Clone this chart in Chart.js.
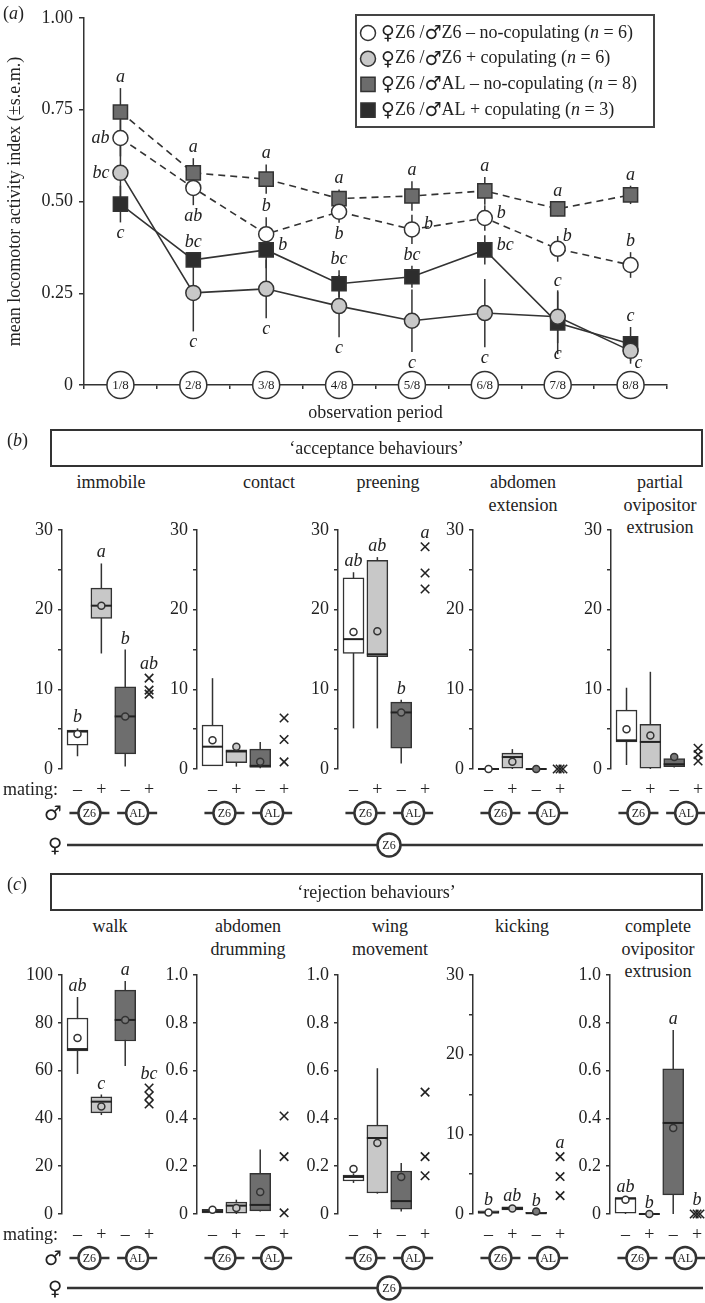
<!DOCTYPE html>
<html>
<head>
<meta charset="utf-8">
<title>Locomotor activity and courtship behaviours</title>
<script src="https://cdn.jsdelivr.net/npm/chart.js@4.4.1/dist/chart.umd.min.js"></script>
<style>
  html, body { margin: 0; padding: 0; background: #fff; }
  #figure { position: relative; width: 705px; height: 1303px; overflow: hidden;
    font-family: "Liberation Serif", "DejaVu Serif", serif; color: #222; }
  #figure canvas, #figure svg { position: absolute; }
  .txt { position: absolute; font-size: 18px; line-height: 22px; white-space: nowrap; }
  .mid { transform: translateX(-50%); text-align: center; }
  .frame { position: absolute; border: 2px solid #333; box-sizing: border-box;
    text-align: center; font-size: 18px; line-height: 34px; }
  .sex { position: absolute; font-family: "DejaVu Sans", sans-serif; font-size: 20px;
    line-height: 22px; transform: translateX(-50%); }
</style>
</head>
<body>
<div id="figure"></div>
<script>
// ---------- (a) mean locomotor activity index (±s.e.m.) ----------
const periods = ["1/8", "2/8", "3/8", "4/8", "5/8", "6/8", "7/8", "8/8"];

const z6NoCop = [0.673, 0.537, 0.411, 0.472, 0.424, 0.455, 0.371, 0.327];
const z6NoCopSem = [0.05, 0.047, 0.046, 0.03, 0.04, 0.035, 0.035, 0.035];
const z6NoCopLetters = ["ab", "ab", "b", "b", "b", "b", "b", "b"];

const z6Cop = [0.578, 0.251, 0.262, 0.215, 0.175, 0.196, 0.186, 0.093];
const z6CopSem = [0.1, 0.105, 0.08, 0.085, 0.085, 0.093, 0.072, 0.035];
const z6CopLetters = ["bc", "c", "c", "c", "c", "c", "c", "c"];

const alNoCop = [0.744, 0.578, 0.561, 0.508, 0.515, 0.529, 0.48, 0.518];
const alNoCopSem = [0.065, 0.04, 0.04, 0.025, 0.04, 0.038, 0.02, 0.025];
const alNoCopLetters = ["a", "a", "a", "a", "a", "a", "a", "a"];

const alCop = [0.493, 0.341, 0.368, 0.276, 0.295, 0.368, 0.169, 0.112];
const alCopSem = [0.05, 0.02, 0.05, 0.037, 0.03, 0.04, 0.085, 0.046];
const alCopLetters = ["c", "bc", "b", "bc", "bc", "bc", "c", "c"];

// ---------- (b) and (c): % observation time ----------
// groups: ♂Z6 no mating, ♂Z6 mating, ♂AL no mating, ♂AL mating (n = 3, single values)
const matingSigns = ["–", "+", "–", "+"];
const maleStrains = ["Z6", "AL"];
// box rows: [lower whisker, Q1, median, Q3, upper whisker]

const immobileBox = [[1.6, 3.0, 4.7, 4.9, 5.1], [14.5, 18.9, 20.5, 22.7, 25.8], [0.3, 1.9, 6.6, 10.3, 15.0]];
const immobileMean = [4.4, 20.5, 6.6];
const immobilePts = [11.4, 9.9, 9.4];
const immobileLetters = ["b", "a", "b", "ab"];

const contactBox = [[0.4, 0.4, 2.8, 5.5, 11.4], [0.3, 0.8, 2.2, 2.4, 2.9], [0.1, 0.2, 0.4, 2.5, 3.4]];
const contactMean = [3.6, 2.8, 0.9];
const contactPts = [6.4, 3.7, 0.9];
const contactLetters = ["", "", "", ""];

const preeningBox = [[5.1, 14.5, 16.3, 24.0, 24.7], [5.1, 14.1, 14.4, 26.2, 26.6], [0.7, 2.6, 7.1, 8.4, 8.7]];
const preeningMean = [17.2, 17.3, 7.1];
const preeningPts = [27.9, 24.6, 22.6];
const preeningLetters = ["ab", "ab", "b", "a"];

const abdExtBox = [[0, 0, 0, 0, 0], [0, 0, 1.5, 2.0, 2.5], [0, 0, 0, 0, 0]];
const abdExtMean = [0, 0.9, 0];
const abdExtPts = [0, 0, 0];
const abdExtLetters = ["", "", "", ""];

const partialOviBox = [[0.5, 3.4, 3.6, 7.4, 10.2], [0, 0, 3.4, 5.6, 12.2], [0.2, 0.3, 0.6, 1.3, 1.7]];
const partialOviMean = [5.0, 4.2, 1.5];
const partialOviPts = [2.6, 1.8, 1.0];
const partialOviLetters = ["", "", "", ""];

const walkBox = [[58.6, 68.2, 69.0, 82.0, 90.8], [41.4, 42.3, 47.0, 49.0, 50.0], [61.9, 72.4, 81.2, 93.7, 97.5]];
const walkMean = [73.6, 45.0, 81.2];
const walkPts = [52.7, 49.4, 46.0];
const walkLetters = ["ab", "c", "a", "bc"];

const drumBox = [[0.005, 0.005, 0.012, 0.02, 0.025], [0, 0, 0.035, 0.05, 0.06], [0.01, 0.013, 0.038, 0.17, 0.27]];
const drumMean = [0.018, 0.025, 0.092];
const drumPts = [0.41, 0.24, 0.005];
const drumLetters = ["", "", "", ""];

const wingBox = [[0.13, 0.138, 0.155, 0.163, 0.17], [0.085, 0.088, 0.318, 0.372, 0.61], [0.01, 0.02, 0.054, 0.18, 0.213]];
const wingMean = [0.188, 0.297, 0.155];
const wingPts = [0.51, 0.24, 0.16];
const wingLetters = ["", "", "", ""];

const kickBox = [[0, 0, 0.2, 0.4, 0.4], [0.5, 0.5, 0.7, 0.9, 0.9], [0, 0, 0.1, 0.2, 0.2]];
const kickMean = [0.2, 0.7, 0.3];
const kickPts = [7.2, 4.7, 2.3];
const kickLetters = ["b", "ab", "b", "a"];

const completeOviBox = [[0, 0, 0.066, 0.066, 0.066], [0, 0, 0, 0, 0], [0, 0.08, 0.381, 0.607, 0.77]];
const completeOviMean = [0.06, 0, 0.36];
const completeOviPts = [0, 0, 0];
const completeOviLetters = ["ab", "b", "a", "b"];

// ---------- styling / layout ----------
const FONT = '"Liberation Serif", "DejaVu Serif", serif';
const SYMBOL_FONT = '"DejaVu Sans", sans-serif';
const INK = "#333";
const boxFills = ["#ffffff", "#c8c8c8", "#6e6e6e"];
const meanFills = ["#ffffff", "#c8c8c8", "#7a7a7a"];

// where each significance letter of (a) sits relative to its point
const z6NoCopLetterPos = ["left", "below", "above", "below", "right", "right", "aboveRight", "above"];
const z6CopLetterPos = ["left", "below", "below", "below", "below", "below", "below", "belowRight"];
const alNoCopLetterPos = ["above", "above", "above", "above", "above", "above", "above", "above"];
const alCopLetterPos = ["below", "above", "right", "above", "above", "right", "above", "above"];

Chart.defaults.font.family = FONT;
Chart.defaults.font.size = 18;
Chart.defaults.color = "#222";
Chart.defaults.animation = false;

const fig = document.getElementById("figure");

function addText(html, x, cy, cls) {
  const d = document.createElement("div");
  d.className = cls;
  d.style.left = x + "px";
  d.style.top = (cy - 11) + "px";
  d.innerHTML = html;
  fig.appendChild(d);
  return d;
}

function makeCanvas(left, top, w, h) {
  const c = document.createElement("canvas");
  c.width = w;
  c.height = h;
  c.style.left = left + "px";
  c.style.top = top + "px";
  c.style.width = w + "px";
  c.style.height = h + "px";
  fig.appendChild(c);
  return c;
}

// ================= panel (a) =================
const errorBars = {
  id: "errorBars",
  beforeDatasetsDraw(chart) {
    const { ctx, scales: { x, y } } = chart;
    ctx.save();
    ctx.strokeStyle = INK;
    ctx.lineWidth = 1.5;
    chart.data.datasets.forEach((ds) => {
      ds.data.forEach((v, i) => {
        const px = x.getPixelForValue(i);
        ctx.beginPath();
        ctx.moveTo(px, y.getPixelForValue(v + ds.sem[i]));
        ctx.lineTo(px, y.getPixelForValue(v - ds.sem[i]));
        ctx.stroke();
      });
    });
    ctx.restore();
  },
};

const sigLetters = {
  id: "sigLetters",
  afterDatasetsDraw(chart) {
    const { ctx, scales: { x, y } } = chart;
    ctx.save();
    ctx.font = "italic 18px " + FONT;
    ctx.fillStyle = "#222";
    chart.data.datasets.forEach((ds) => {
      ds.data.forEach((v, i) => {
        const px = x.getPixelForValue(i);
        const py = y.getPixelForValue(v);
        const top = y.getPixelForValue(v + ds.sem[i]);
        const bot = y.getPixelForValue(v - ds.sem[i]);
        let tx = px, ty = py, align = "center", base = "alphabetic";
        switch (ds.letterPos[i]) {
          case "above": ty = top - 6; break;
          case "below": ty = bot + 2; base = "top"; break;
          case "left": tx = px - 11; ty = py; align = "right"; base = "middle"; break;
          case "right": tx = px + 12; ty = py - 5; align = "left"; base = "middle"; break;
          case "aboveRight": tx = px + 5; ty = py - 8; align = "left"; break;
          case "belowRight": tx = px + 4; ty = py + 3; align = "left"; base = "top"; break;
        }
        ctx.textAlign = align;
        ctx.textBaseline = base;
        ctx.fillText(ds.letters[i], tx, ty);
      });
    });
    ctx.restore();
  },
};

const periodMarks = {
  id: "periodMarks",
  afterDraw(chart) {
    const { ctx, scales: { x }, chartArea } = chart;
    ctx.save();
    chart.data.labels.forEach((p, i) => {
      const px = x.getPixelForValue(i);
      ctx.beginPath();
      ctx.arc(px, chartArea.bottom, 13.5, 0, Math.PI * 2);
      ctx.fillStyle = "#fff";
      ctx.fill();
      ctx.lineWidth = 1.5;
      ctx.strokeStyle = INK;
      ctx.stroke();
      ctx.fillStyle = "#222";
      ctx.font = "13px " + FONT;
      ctx.textAlign = "center";
      ctx.textBaseline = "middle";
      ctx.fillText(p, px, chartArea.bottom + 1);
    });
    ctx.restore();
  },
};

const framedLegend = {
  id: "framedLegend",
  afterDraw(chart) {
    const ctx = chart.ctx;
    const L = 356, T = 15, W = 298, H = 112;
    ctx.save();
    ctx.strokeStyle = "#444";
    ctx.lineWidth = 2;
    ctx.strokeRect(L, T, W, H);
    chart.data.datasets.forEach((ds, i) => {
      const cy = T + 18 + i * 25.7;
      ctx.fillStyle = ds.pointBackgroundColor;
      ctx.strokeStyle = INK;
      ctx.lineWidth = 1.5;
      Chart.helpers.drawPoint(ctx, { pointStyle: ds.pointStyle, radius: ds.pointRadius, borderWidth: 1.5, rotation: 0 }, L + 12, cy);
      let tx = L + 25;
      ctx.fillStyle = "#222";
      ctx.textBaseline = "middle";
      ctx.textAlign = "left";
      ds.label.split(/(\bn\b|♀|♂)/).forEach((part) => {
        if (!part) return;
        if (part === "♀" || part === "♂") ctx.font = "19px " + SYMBOL_FONT;
        else ctx.font = (part === "n" ? "italic " : "") + "18px " + FONT;
        ctx.fillText(part, tx, cy + (part === "♀" || part === "♂" ? 1 : 0));
        tx += ctx.measureText(part).width;
      });
    });
    ctx.restore();
  },
};

function lineSeries(label, data, sem, letters, letterPos, style, fill, dashed) {
  return {
    label: label,
    data: data,
    sem: sem,
    letters: letters,
    letterPos: letterPos,
    borderColor: INK,
    borderWidth: 1.6,
    borderDash: dashed ? [7, 5] : [],
    pointStyle: style,
    pointRadius: style === "rect" ? 10 : 7.5,
    pointBackgroundColor: fill,
    pointBorderColor: INK,
    pointBorderWidth: 1.5,
    tension: 0,
  };
}

const canvasA = makeCanvas(0, 0, 705, 430);
new Chart(canvasA, {
  type: "line",
  data: {
    labels: periods,
    datasets: [
      lineSeries("♀Z6 /♂Z6 – no-copulating (n = 6)", z6NoCop, z6NoCopSem, z6NoCopLetters, z6NoCopLetterPos, "circle", "#ffffff", true),
      lineSeries("♀Z6 /♂Z6 + copulating (n = 6)", z6Cop, z6CopSem, z6CopLetters, z6CopLetterPos, "circle", "#c8c8c8", false),
      lineSeries("♀Z6 /♂AL – no-copulating (n = 8)", alNoCop, alNoCopSem, alNoCopLetters, alNoCopLetterPos, "rect", "#6c6c6c", true),
      lineSeries("♀Z6 /♂AL + copulating (n = 3)", alCop, alCopSem, alCopLetters, alCopLetterPos, "rect", "#2d2d2d", false),
    ],
  },
  options: {
    responsive: false,
    devicePixelRatio: 1,
    events: [],
    layout: { padding: { left: 0, top: 18, right: 38, bottom: 0 } },
    plugins: { legend: { display: false }, tooltip: { enabled: false } },
    scales: {
      x: {
        offset: true,
        grid: { offset: true, drawOnChartArea: false, tickLength: 4, color: INK, lineWidth: 1.5 },
        border: { color: INK, width: 1.5 },
        ticks: { display: false },
        title: { display: true, text: "observation period", font: { size: 18 }, padding: { bottom: 6 } },
        afterFit: (s) => { s.height = 45; },
      },
      y: {
        min: 0,
        max: 1,
        ticks: { stepSize: 0.25, padding: 6, callback: (v) => (v === 0 ? "0" : v.toFixed(2)) },
        grid: { drawOnChartArea: false, tickLength: 5, color: INK, lineWidth: 1.5 },
        border: { color: INK, width: 1.5 },
        title: { display: true, text: "mean locomotor activity index (±s.e.m.)", font: { size: 18 }, padding: { top: 4 } },
        afterFit: (s) => { s.width = 84; },
      },
    },
  },
  plugins: [errorBars, sigLetters, periodMarks, framedLegend],
});

addText("(<i>a</i>)", 3, 13, "txt");

// ================= panels (b) and (c) =================
const boxDetail = {
  id: "boxDetail",
  beforeDatasetsDraw(chart) {
    const info = chart.canvas.boxInfo;
    const { ctx, scales: { x, y } } = chart;
    ctx.save();
    ctx.strokeStyle = INK;
    ctx.lineWidth = 1.5;
    info.box.forEach((b, k) => {
      const px = x.getPixelForValue(k + 1);
      ctx.beginPath();
      ctx.moveTo(px, y.getPixelForValue(b[0]));
      ctx.lineTo(px, y.getPixelForValue(b[4]));
      ctx.stroke();
    });
    ctx.restore();
  },
  afterDatasetDraw(chart, args) {
    if (args.meta.type !== "bar") return;
    const info = chart.canvas.boxInfo;
    const { ctx, scales: { x, y } } = chart;
    ctx.save();
    ctx.strokeStyle = "#222";
    ctx.lineWidth = 2;
    info.box.forEach((b, k) => {
      const px = x.getPixelForValue(k + 1);
      const py = y.getPixelForValue(b[2]);
      ctx.beginPath();
      ctx.moveTo(px - 10.5, py);
      ctx.lineTo(px + 10.5, py);
      ctx.stroke();
    });
    ctx.restore();
  },
  afterDatasetsDraw(chart) {
    const info = chart.canvas.boxInfo;
    const { ctx, scales: { x, y } } = chart;
    ctx.save();
    ctx.font = "italic 18px " + FONT;
    ctx.fillStyle = "#222";
    ctx.textAlign = "center";
    ctx.textBaseline = "alphabetic";
    info.letters.forEach((l, k) => {
      if (!l) return;
      let top, gap;
      if (k < info.box.length) {
        top = Math.max(info.box[k][4], info.mean[k]);
        gap = 6;
      } else {
        top = Math.max(...info.pts);
        gap = 9;
      }
      ctx.fillText(l, x.getPixelForValue(k + 1), y.getPixelForValue(top) - gap);
    });
    ctx.restore();
  },
  afterDraw(chart) {
    // male strain row under the mating signs
    const { ctx, scales: { x }, chartArea } = chart;
    const cy = chartArea.bottom + 44;
    ctx.save();
    maleStrains.forEach((s, i) => {
      const cx = x.getPixelForValue(1.5 + 2 * i);
      ctx.strokeStyle = INK;
      ctx.lineWidth = 2.5;
      ctx.beginPath();
      ctx.moveTo(cx - 20, cy);
      ctx.lineTo(cx + 20, cy);
      ctx.stroke();
      ctx.beginPath();
      ctx.arc(cx, cy, 11, 0, Math.PI * 2);
      ctx.fillStyle = "#fff";
      ctx.fill();
      ctx.stroke();
      ctx.fillStyle = "#222";
      ctx.font = "12px " + FONT;
      ctx.textAlign = "center";
      ctx.textBaseline = "middle";
      ctx.fillText(s, cx, cy + 1);
    });
    ctx.restore();
  },
};

// spread coincident single values sideways so each cross stays visible
function outlierPoints(pts, max) {
  return pts.map((v, j) => {
    const same = pts.filter((w) => Math.abs(w - v) < max * 0.004);
    const idx = pts.filter((w, jj) => jj < j && Math.abs(w - v) < max * 0.004).length;
    const shift = same.length > 1 ? (idx - (same.length - 1) / 2) * 0.12 : 0;
    return { x: 4 + shift, y: v };
  });
}

function boxPanel(axisX, canvasTop, plotTop, plotBottom, info) {
  const W = 169, H = 330;
  const canvas = makeCanvas(axisX - 62, canvasTop, W, H);
  canvas.boxInfo = info;
  const labelEvery = info.max <= 1 ? info.step : info.max === 100 ? info.step : 10;
  new Chart(canvas, {
    type: "bar",
    data: {
      datasets: [
        {
          type: "scatter",
          order: 0,
          clip: false,
          data: info.mean.map((m, k) => ({ x: k + 1, y: m })),
          pointStyle: "circle",
          pointRadius: 3.5,
          pointBackgroundColor: meanFills,
          pointBorderColor: INK,
          pointBorderWidth: 1.5,
          showLine: false,
        },
        {
          type: "scatter",
          order: 1,
          clip: false,
          data: outlierPoints(info.pts, info.max),
          pointStyle: "crossRot",
          pointRadius: 6,
          pointBorderColor: "#222",
          pointBorderWidth: 1.6,
          showLine: false,
        },
        {
          type: "bar",
          order: 2,
          clip: false,
          data: info.box.map((b, k) => ({ x: k + 1, y: [b[1], b[3]] })),
          backgroundColor: boxFills,
          borderColor: INK,
          borderWidth: 1.5,
          borderSkipped: false,
          barThickness: 21,
        },
      ],
    },
    options: {
      responsive: false,
      devicePixelRatio: 1,
      events: [],
      layout: { padding: { left: 0, top: plotTop - canvasTop, right: 8, bottom: 0 } },
      plugins: { legend: { display: false }, tooltip: { enabled: false } },
      scales: {
        x: {
          type: "linear",
          offset: false,
          min: 0.35,
          max: 4.5,
          afterBuildTicks: (s) => { s.ticks = [1, 2, 3, 4].map((v) => ({ value: v })); },
          ticks: { autoSkip: false, maxRotation: 0, padding: 2, callback: (v) => matingSigns[v - 1] },
          grid: { display: false },
          border: { display: false },
          afterFit: (s) => { s.height = canvasTop + H - plotBottom; },
        },
        y: {
          min: 0,
          max: info.max,
          ticks: {
            stepSize: info.step,
            padding: 5,
            callback: (v) => {
              if (Math.abs(v / labelEvery - Math.round(v / labelEvery)) > 1e-6) return "";
              return v === 0 ? "0" : info.max <= 1 ? v.toFixed(1) : String(v);
            },
          },
          grid: { drawOnChartArea: false, tickLength: 4, color: INK, lineWidth: 1.5 },
          border: { color: INK, width: 1.5 },
          afterFit: (s) => { s.width = 62; },
        },
      },
    },
    plugins: [boxDetail],
  });
}

const accAxisX = [62, 197, 338, 473, 611];
const accTitleX = [111, 269, 388, 523, 660];
const rejAxisX = [62, 197, 338, 473, 610];
const rejTitleX = [110, 248, 390, 522, 658];

const acceptance = [
  { title: ["immobile"], box: immobileBox, mean: immobileMean, pts: immobilePts, letters: immobileLetters, max: 30, step: 5 },
  { title: ["contact"], box: contactBox, mean: contactMean, pts: contactPts, letters: contactLetters, max: 30, step: 5 },
  { title: ["preening"], box: preeningBox, mean: preeningMean, pts: preeningPts, letters: preeningLetters, max: 30, step: 5 },
  { title: ["abdomen", "extension"], box: abdExtBox, mean: abdExtMean, pts: abdExtPts, letters: abdExtLetters, max: 30, step: 5 },
  { title: ["partial", "ovipositor", "extrusion"], box: partialOviBox, mean: partialOviMean, pts: partialOviPts, letters: partialOviLetters, max: 30, step: 5 },
];
const rejection = [
  { title: ["walk"], box: walkBox, mean: walkMean, pts: walkPts, letters: walkLetters, max: 100, step: 20 },
  { title: ["abdomen", "drumming"], box: drumBox, mean: drumMean, pts: drumPts, letters: drumLetters, max: 1, step: 0.2 },
  { title: ["wing", "movement"], box: wingBox, mean: wingMean, pts: wingPts, letters: wingLetters, max: 1, step: 0.2 },
  { title: ["kicking"], box: kickBox, mean: kickMean, pts: kickPts, letters: kickLetters, max: 30, step: 5 },
  { title: ["complete", "ovipositor", "extrusion"], box: completeOviBox, mean: completeOviMean, pts: completeOviPts, letters: completeOviLetters, max: 1, step: 0.2 },
];

function behaviourBlock(tag, heading, panels, axisX, titleX, frameTop, titleY, canvasTop, plotTop, plotBottom, femaleY) {
  addText("(<i>" + tag + "</i>)", 7, frameTop + 11, "txt");
  const f = document.createElement("div");
  f.className = "frame";
  f.style.left = "50px";
  f.style.top = frameTop + "px";
  f.style.width = "653px";
  f.style.height = "38px";
  f.textContent = heading;
  fig.appendChild(f);

  panels.forEach((p, i) => {
    p.title.forEach((line, j) => addText(line, titleX[i], titleY + j * 22.5, "txt mid"));
    boxPanel(axisX[i], canvasTop, plotTop, plotBottom, p);
  });

  addText("mating:", 3, plotBottom + 20, "txt");
  addText("♂", 53, plotBottom + 44, "sex");
  addText("♀", 55, femaleY, "sex");

  const svgNS = "http://www.w3.org/2000/svg";
  const svg = document.createElementNS(svgNS, "svg");
  svg.setAttribute("width", 705);
  svg.setAttribute("height", 30);
  svg.style.left = "0px";
  svg.style.top = (femaleY - 15) + "px";
  svg.innerHTML =
    '<line x1="67" y1="15" x2="703" y2="15" stroke="' + INK + '" stroke-width="2.5"/>' +
    '<circle cx="389" cy="15" r="11.5" fill="#fff" stroke="' + INK + '" stroke-width="2.5"/>' +
    '<text x="389" y="19" text-anchor="middle" font-size="12" font-family=\'' + FONT + '\' fill="#222">Z6</text>';
  fig.appendChild(svg);
}

behaviourBlock("b", "\u2018acceptance behaviours\u2019", acceptance, accAxisX, accTitleX, 429, 482, 505, 530, 769, 845);
behaviourBlock("c", "\u2018rejection behaviours\u2019", rejection, rejAxisX, rejTitleX, 873, 926, 950, 975, 1214, 1288);
</script>
</body>
</html>
